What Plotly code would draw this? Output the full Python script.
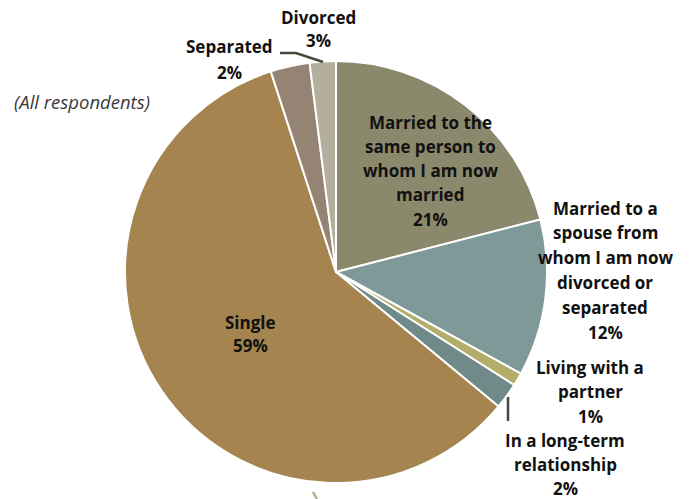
import plotly.graph_objects as go

# Marital history breakdown (all respondents)
categories = [
    "Married to the same person to whom I am now married",
    "Married to a spouse from whom I am now divorced or separated",
    "Living with a partner",
    "In a long-term relationship",
    "Single",
    "Divorced",
    "Separated",
]
values = [21, 12, 1, 2, 59, 3, 2]
colors = ["#8b896c", "#7f9898", "#b3ad6a", "#6f8a88", "#a5844f", "#958474", "#b4ae9c"]

# How each label is broken into lines
label_lines = [
    ["Married to the", "same person to", "whom I am now", "married"],
    ["Married to a", "spouse from", "whom I am now", "divorced or", "separated"],
    ["Living with a", "partner"],
    ["In a long-term", "relationship"],
    ["Single"],
    ["Divorced"],
    ["Separated"],
]

W, H = 690, 499
cx, cy, r = 336, 272, 211

# label anchor: (center x, y of first line, line spacing) in pixels
label_pos = [
    (430, 122, 24.3),
    (605, 208, 24.8),
    (590, 367, 24.5),
    (565, 440, 24.3),
    (251, 322, 23.5),
    (318, 17, 23.5),
    (229, 47, 25),
]

fig = go.Figure(go.Pie(
    labels=categories,
    values=values,
    sort=False,
    direction="clockwise",
    rotation=0,
    marker=dict(colors=colors, line=dict(color="white", width=2)),
    textinfo="none",
    hoverinfo="label+percent",
    showlegend=False,
    domain=dict(x=[(cx - r) / W, (cx + r) / W], y=[1 - (cy + r) / H, 1 - (cy - r) / H]),
))


def px(x, y):
    return x / W, 1 - y / H


annotations = []
for name, lines, val, (lx, ly, dy) in zip(categories, label_lines, values, label_pos):
    for i, t in enumerate(lines + [f"{val}%"]):
        ax, ay = px(lx, ly + i * dy)
        annotations.append(dict(
            x=ax, y=ay, xref="paper", yref="paper", text=f"<b>{t}</b>",
            showarrow=False, xanchor="center", yanchor="middle",
            font=dict(family="Open Sans", size=17, color="#111111"),
        ))

ax, ay = px(12, 102)
annotations.append(dict(
    x=ax, y=ay, xref="paper", yref="paper", text="<i>(All respondents)</i>",
    showarrow=False, xanchor="left", yanchor="middle",
    font=dict(family="Open Sans", size=18.5, color="#3a3a3a"),
))

# leader lines
shapes = []
for pts, col in [
    ([(280, 53), (296, 53), (323, 62)], "#4a4838"),
    ([(508, 397), (508, 421)], "#4a4838"),
    ([(313, 492), (317, 499)], "#b8ae88"),
]:
    path = "M " + " L ".join(f"{x / W} {1 - y / H}" for x, y in pts)
    shapes.append(dict(type="path", xref="paper", yref="paper", path=path,
                       line=dict(color=col, width=2.5)))

fig.update_layout(
    width=W, height=H,
    margin=dict(l=0, r=0, t=0, b=0),
    paper_bgcolor="white", plot_bgcolor="white",
    annotations=annotations,
    shapes=shapes,
)

fig.write_html("out.html")
